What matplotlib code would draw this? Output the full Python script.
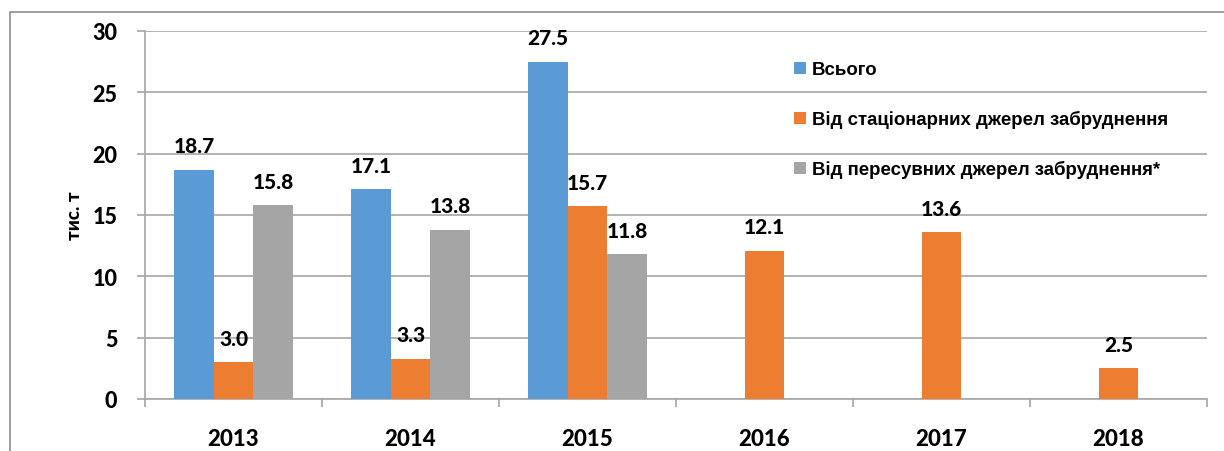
import numpy as np
import matplotlib
matplotlib.use("Agg")
import matplotlib.pyplot as plt
from matplotlib.patches import Rectangle

# data (тис. т)
years = ["2013", "2014", "2015", "2016", "2017", "2018"]
total = [18.7, 17.1, 27.5]            # Всього, only 2013-2015
stationary = [3.0, 3.3, 15.7, 12.1, 13.6, 2.5]
mobile = [15.8, 13.8, 11.8]           # пересувні, only 2013-2015

series_names = ["Всього",
                "Від стаціонарних джерел забруднення",
                "Від пересувних джерел забруднення*"]
colors = ["#5B9BD5", "#ED7D31", "#A5A5A5"]

num_font = "Lato"
num_weight = 900
leg_font = ["Liberation Sans Narrow", "Liberation Sans", "DejaVu Sans"]

fig = plt.figure(figsize=(12.24, 4.52), dpi=100)
ax = fig.add_axes([145 / 1224, 1 - 400 / 452, (1207 - 145) / 1224, (400 - 32) / 452])

# outer chart frame (cut off on right and bottom like the screenshot)
fig.patches.append(Rectangle((10 / 1224, -0.1), 1.2, 1.1 - 13 / 452,
                             transform=fig.transFigure, fill=False,
                             edgecolor="#8c8c8c", linewidth=1.2))

w = 0.223
x_all = np.arange(len(years))
x_three = np.arange(len(total))

bars_total = ax.bar(x_three - w, total, w, color=colors[0], label=series_names[0], zorder=3)
bars_stat = ax.bar(x_all, stationary, w, color=colors[1], label=series_names[1], zorder=3)
bars_mob = ax.bar(x_three + w, mobile, w, color=colors[2], label=series_names[2], zorder=3)

# value labels on top of each bar
for bars, vals in [(bars_total, total), (bars_stat, stationary), (bars_mob, mobile)]:
    for b, v in zip(bars, vals):
        ax.annotate(f"{v:.1f}", (b.get_x() + b.get_width() / 2, v),
                    xytext=(0, 10.5), textcoords="offset points",
                    ha="center", va="bottom", fontsize=15, fontweight=num_weight,
                    family=num_font, color="black", zorder=4)

ax.set_xlim(-0.5, len(years) - 0.5)
ax.set_ylim(0, 30)
ax.set_yticks(range(0, 31, 5))
ax.yaxis.grid(True, color="#a6a6a6", linewidth=1.2, zorder=0)
ax.set_axisbelow(True)

ax.set_xticks(x_all)
ax.set_xticklabels(years)
ax.set_xticks(np.arange(-0.5, len(years)), minor=True)
ax.tick_params(axis="x", which="major", length=0, pad=21, labelsize=16)
ax.tick_params(axis="x", which="minor", length=6, width=1.2, color="#a6a6a6")
ax.tick_params(axis="y", length=6, width=1.2, color="#a6a6a6", pad=14, labelsize=15.5)

for lab in ax.get_xticklabels() + ax.get_yticklabels():
    lab.set_fontweight(num_weight)
    lab.set_family(num_font)

for side in ["top", "right"]:
    ax.spines[side].set_visible(False)
for side in ["left", "bottom"]:
    ax.spines[side].set_color("#a6a6a6")
    ax.spines[side].set_linewidth(1.2)

ax.set_ylabel("тис. т", fontsize=13.5, fontweight=num_weight, family=num_font, labelpad=7)

leg = fig.legend(loc="upper left", bbox_to_anchor=(785 / 1224, 1 - 53 / 452),
                 frameon=False, borderpad=0, handlelength=0.65, handleheight=0.65,
                 handletextpad=0.3, labelspacing=1.72,
                 prop={"family": leg_font, "weight": "bold", "size": 13.4})

fig.savefig("out.png", dpi=100)
